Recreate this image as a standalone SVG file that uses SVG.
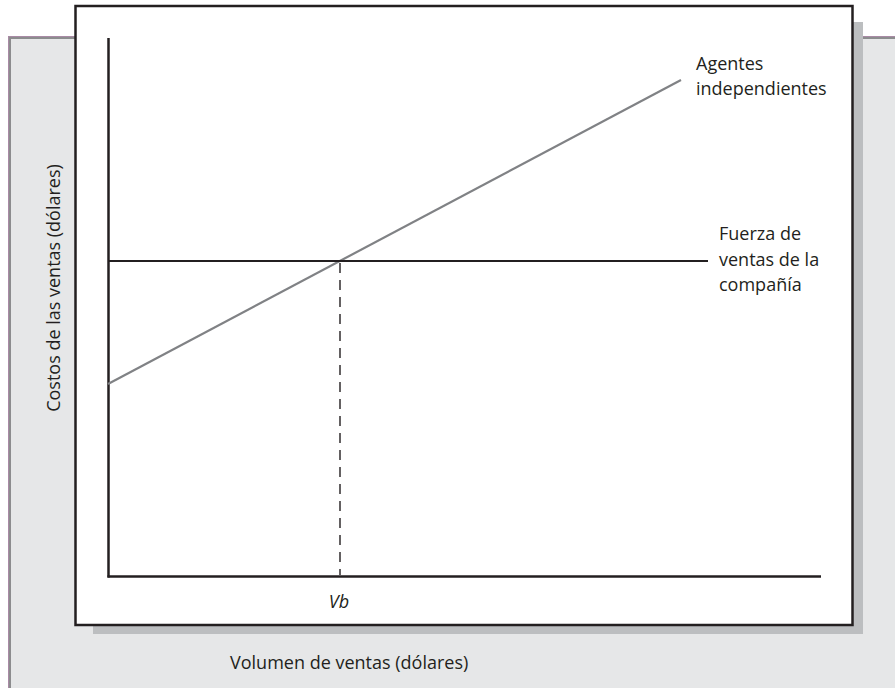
<svg xmlns="http://www.w3.org/2000/svg" width="895" height="688" viewBox="0 0 895 688">
<style>
text{font-family:"Open Sans","Noto Sans","Liberation Sans",sans-serif;font-size:18px;fill:#231f20}
.ax{stroke:#231f20;stroke-width:2.5;fill:none}
</style>
<rect x="0" y="0" width="895" height="688" fill="#ffffff"/>
<g id="panel">
<rect x="9" y="37" width="890" height="660" fill="#e6e7e8"/>
<line x1="8.5" y1="36" x2="8.5" y2="688" stroke="#a98aa5" stroke-width="1"/>
<line x1="8" y1="36.5" x2="895" y2="36.5" stroke="#a98aa5" stroke-width="1"/>
<line x1="10" y1="38" x2="10" y2="688" stroke="#8c8c8e" stroke-width="2"/>
<line x1="9" y1="38" x2="895" y2="38" stroke="#8c8c8e" stroke-width="2"/>
</g>
<g id="frame">
<rect x="93" y="22" width="770" height="612" fill="#bcbec0"/>
<rect x="75.5" y="6" width="777" height="619" fill="#ffffff" stroke="#231f20" stroke-width="2.5"/>
</g>
<g id="connectors">
<line class="ax" x1="108.5" y1="38" x2="108.5" y2="577.5"/>
<line class="ax" x1="107.5" y1="576.5" x2="821" y2="576.5"/>
<line x1="108" y1="384" x2="681" y2="80" stroke="#808285" stroke-width="2.2"/>
<line x1="108" y1="261" x2="708" y2="261" stroke="#231f20" stroke-width="2"/>
<line x1="340" y1="263" x2="340" y2="575" stroke="#231f20" stroke-width="1.4" stroke-dasharray="10 7"/>
</g>
<g id="label-agentes">
<text x="696" y="70">Agentes</text>
<text x="696" y="95">independientes</text>
</g>
<g id="label-fuerza">
<text x="719" y="240">Fuerza de</text>
<text x="719" y="266">ventas de la</text>
<text x="719" y="291">compañía</text>
</g>
<g id="label-vb">
<text x="339" y="608" text-anchor="middle" font-style="italic">Vb</text>
</g>
<g id="label-x">
<text x="230" y="669">Volumen de ventas (dólares)</text>
</g>
<g id="label-y">
<text transform="translate(60,288) rotate(-90)" text-anchor="middle">Costos de las ventas (dólares)</text>
</g>
</svg>
